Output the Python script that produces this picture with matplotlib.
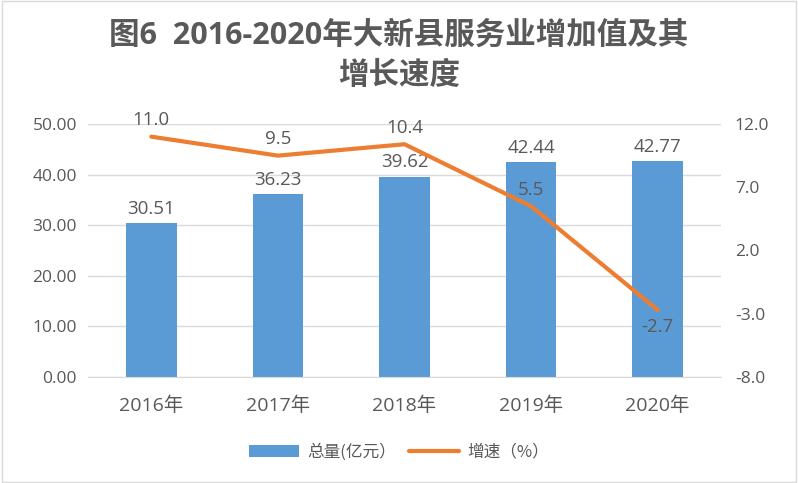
import matplotlib
matplotlib.use("Agg")
import matplotlib.pyplot as plt
from matplotlib.patches import Rectangle
import numpy as np

plt.rcParams['font.family'] = ['Open Sans', 'Noto Sans CJK SC', 'DejaVu Sans']

categories = ['2016年', '2017年', '2018年', '2019年', '2020年']
totals = [30.51, 36.23, 39.62, 42.44, 42.77]
growth = [11.0, 9.5, 10.4, 5.5, -2.7]
left_ticks = [0, 10, 20, 30, 40, 50]
right_ticks = [-8, -3, 2, 7, 12]

gray = '#595959'
blue = '#5B9BD5'
orange = '#ED7D31'

fig = plt.figure(figsize=(7.98, 4.83), dpi=100)
ax = fig.add_axes([88/798, 1-377/483, (721-88)/798, (377-124)/483])
x = np.arange(len(categories))
ax.bar(x, totals, width=0.4, color=blue, zorder=2, label='总量(亿元）')
ax.set_xlim(-0.5, 4.5)
ax.set_ylim(0, 50)
ax.set_yticks(left_ticks)
ax.set_yticklabels([f'{v:.2f}' for v in left_ticks])
ax.set_xticks(x)
ax.set_xticklabels(categories, family=['Open Sans', 'Noto Sans CJK SC'])
ax.grid(axis='y', color='#D9D9D9', linewidth=1, zorder=0)
for s in ['top', 'right', 'left']:
    ax.spines[s].set_visible(False)
ax.spines['bottom'].set_color('#D9D9D9')
ax.tick_params(axis='y', length=0, labelsize=12.5, colors=gray, pad=8)
ax.tick_params(axis='x', length=0, labelsize=14, colors=gray, pad=14)
for xi, v in zip(x, totals):
    ax.text(xi, v + 1.0, f'{v:.2f}', ha='center', va='bottom', fontsize=13.5, color=gray)

ax2 = ax.twinx()
ax2.plot(x, growth, color=orange, linewidth=3, zorder=3, solid_capstyle='round', label='增速（%）')
ax2.set_ylim(-8, 12)
ax2.set_yticks(right_ticks)
ax2.set_yticklabels([f'{v:.1f}' for v in right_ticks])
for s in ['top', 'right', 'left', 'bottom']:
    ax2.spines[s].set_visible(False)
ax2.tick_params(axis='y', length=0, labelsize=12.5, colors=gray, pad=10)
for xi, v in zip(x, growth):
    if v < 0:
        ax2.text(xi, v - 0.6, f'{v:.1f}', ha='center', va='top', fontsize=13.5, color=gray)
    else:
        ax2.text(xi, v + 0.6, f'{v:.1f}', ha='center', va='bottom', fontsize=13.5, color=gray)

fig.text(0.5, 1-36/483, '图6  2016-2020年大新县服务业增加值及其', ha='center', va='center',
         fontsize=22, fontweight='bold', color=gray, family=['Open Sans', 'Noto Sans CJK SC'])
fig.text(0.5, 1-75/483, '增长速度', ha='center', va='center',
         fontsize=22, fontweight='bold', color=gray, family=['Noto Sans CJK SC'])

h1, l1 = ax.get_legend_handles_labels()
h2, l2 = ax2.get_legend_handles_labels()
leg = fig.legend(h1 + h2, l1 + l2, loc='center', bbox_to_anchor=(0.5, 1-452/483), ncol=2,
                 frameon=False, handlelength=3, columnspacing=0.8, handletextpad=0.5,
                 prop={'family': ['Noto Sans CJK SC', 'DejaVu Sans'], 'size': 12})
for t in leg.get_texts():
    t.set_color(gray)

fig.patches.append(Rectangle((0.002, 0.003), 0.996, 0.994, transform=fig.transFigure,
                             fill=False, edgecolor='#D9D9D9', linewidth=1))
fig.savefig('out.png', dpi=100)
